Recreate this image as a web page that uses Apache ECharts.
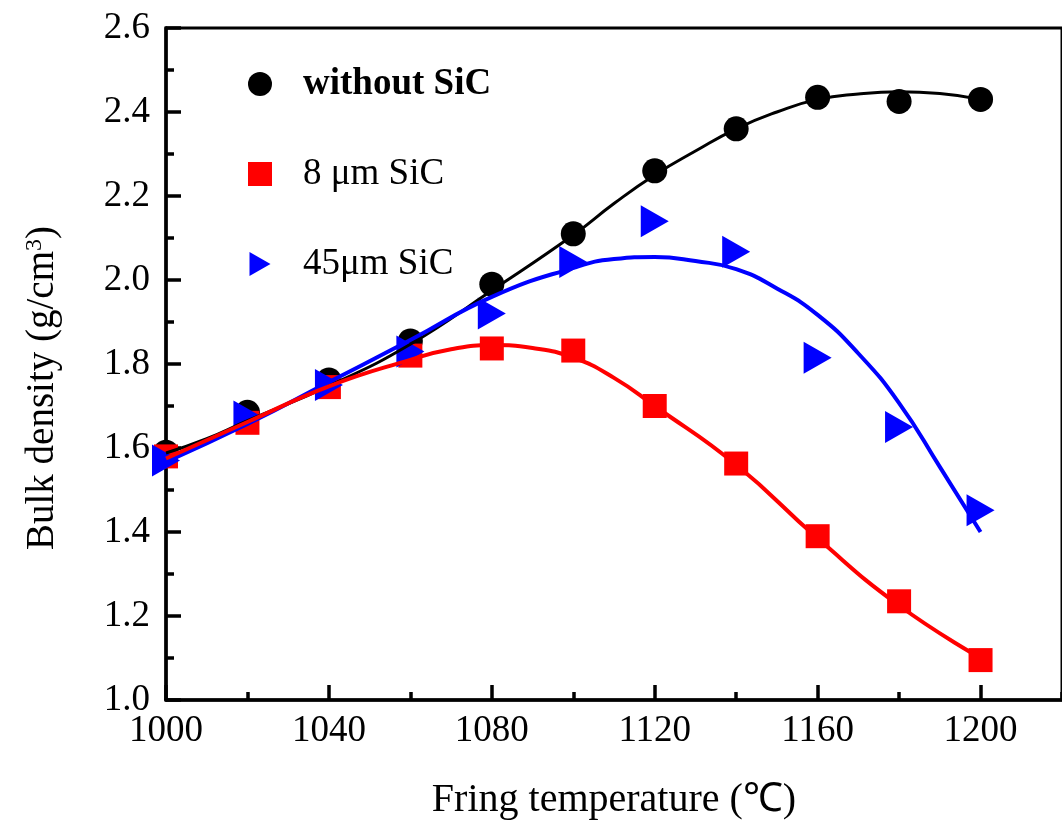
<!DOCTYPE html>
<html>
<head>
<meta charset="utf-8">
<script src="https://cdn.jsdelivr.net/npm/echarts@6/dist/echarts.min.js"></script>
<style>html,body{margin:0;padding:0;background:#fff}#c{width:1062px;height:828px}</style>
</head>
<body>
<div id="c"></div>
<script>
// Measured points
const temps = [1000, 1020, 1040, 1060, 1080, 1100, 1120, 1140, 1160, 1180, 1200];
const withoutSiC = [1.59, 1.685, 1.762, 1.855, 1.99, 2.11, 2.26, 2.36, 2.435, 2.425, 2.43];
const sic8 = [1.58, 1.66, 1.745, 1.82, 1.837, 1.832, 1.70, 1.563, 1.39, 1.235, 1.095];
const sic45 = [1.57, 1.675, 1.75, 1.83, 1.92, 2.043, 2.14, 2.067, 1.815, 1.65, 1.452];

// Fitted curves
const fitBlackX = [1000, 1010, 1020, 1040, 1060, 1080, 1100, 1110, 1120, 1130, 1140, 1150, 1160, 1170, 1180, 1190, 1200];
const fitBlackY = [1.588, 1.622, 1.665, 1.748, 1.847, 1.975, 2.107, 2.182, 2.25, 2.307, 2.36, 2.40, 2.43, 2.443, 2.448, 2.444, 2.43];
const fitRedX = [1000, 1020, 1040, 1060, 1070, 1080, 1090, 1100, 1110, 1120, 1140, 1160, 1180, 1200];
const fitRedY = [1.575, 1.662, 1.747, 1.81, 1.835, 1.845, 1.838, 1.815, 1.767, 1.70, 1.56, 1.385, 1.225, 1.10];
const fitBlueX = [1000, 1020, 1040, 1060, 1080, 1100, 1110, 1120, 1130, 1140, 1150, 1160, 1170, 1180, 1190, 1200];
const fitBlueY = [1.567, 1.657, 1.757, 1.857, 1.96, 2.029, 2.05, 2.055, 2.045, 2.026, 1.98, 1.917, 1.825, 1.707, 1.555, 1.40];

const seriesNames = ['without SiC', '8 \u03bcm SiC', '45\u03bcm SiC'];
const xTicks = [1000, 1220, 40];
const yTicks = [1.0, 2.6, 0.2];

const pairs = (xs, ys) => xs.map((x, i) => [x, ys[i]]);
const FONT = '"Liberation Serif", "Times New Roman", serif';
const chart = echarts.init(document.getElementById('c'), null, {renderer: 'canvas'});
const triPath = 'path://M0,0L28,16L0,32Z';

chart.setOption({
  animation: false,
  backgroundColor: '#fff',
  grid: {left: 166, top: 28, bottom: 128, right: -8, show: true, borderColor: '#000', borderWidth: 3, backgroundColor: 'transparent'},
  legend: {
    orient: 'vertical', left: 248, top: 64, padding: 0, itemGap: 50,
    itemWidth: 24, itemHeight: 24,
    data: seriesNames,
    formatter: n => n === 'without SiC' ? '{b|' + n + '}' : n,
    textStyle: {fontFamily: FONT, fontSize: 37, lineHeight: 40, color: '#000', padding: [0, 0, 0, 26],
      rich: {b: {fontFamily: FONT, fontSize: 37, fontWeight: 'bold', color: '#000', lineHeight: 40}}}
  },
  xAxis: [{
    type: 'value', min: xTicks[0], max: xTicks[1], interval: xTicks[2],
    name: 'Fring temperature (\u2103)', nameLocation: 'middle', nameGap: 80,
    nameTextStyle: {fontFamily: FONT, fontSize: 40, color: '#000'},
    axisLine: {show: true, onZero: false, lineStyle: {color: '#000', width: 3.5}},
    axisTick: {show: true, inside: true, length: 15, lineStyle: {color: '#000', width: 3.5}},
    axisLabel: {fontFamily: FONT, fontSize: 37, color: '#000', margin: 13, showMaxLabel: false,
      formatter: v => String(v)},
    splitLine: {show: false}
  }, {
    type: 'value', min: xTicks[0], max: xTicks[1], interval: xTicks[2] / 2, position: 'bottom',
    axisLine: {show: false}, axisLabel: {show: false}, splitLine: {show: false},
    axisTick: {show: true, inside: true, length: 8, lineStyle: {color: '#000', width: 3.5}}
  }],
  yAxis: {
    type: 'value', min: yTicks[0], max: yTicks[1], interval: yTicks[2],
    name: 'Bulk density (g/cm{sup|3})', nameLocation: 'middle', nameGap: 104,
    nameTextStyle: {fontFamily: FONT, fontSize: 39, color: '#000', padding: [0, 48, 0, 0],
      rich: {sup: {fontFamily: FONT, fontSize: 24, color: '#000', verticalAlign: 'top', padding: [0, 0, 14, 0]}}},
    axisLine: {show: true, onZero: false, lineStyle: {color: '#000', width: 3.5}},
    axisTick: {show: true, inside: true, length: 15, lineStyle: {color: '#000', width: 3.5}},
    minorTick: {show: true, splitNumber: 2, length: 8, lineStyle: {color: '#000', width: 3.5}},
    axisLabel: {fontFamily: FONT, fontSize: 37, color: '#000', margin: 16, formatter: v => v.toFixed(1)},
    splitLine: {show: false}
  },
  series: [
    {name: seriesNames[0], type: 'scatter', symbol: 'circle', symbolSize: 25, z: 2,
      itemStyle: {color: '#000', opacity: 1}, data: pairs(temps, withoutSiC)},
    {name: seriesNames[1], type: 'scatter', symbol: 'rect', symbolSize: 24, z: 2,
      itemStyle: {color: '#ff0000', opacity: 1}, data: pairs(temps, sic8)},
    {name: seriesNames[2], type: 'scatter', symbol: triPath, symbolSize: [28, 32], z: 2,
      itemStyle: {color: '#0000ff', opacity: 1}, data: pairs(temps, sic45)},
    {name: 'fit1', type: 'line', smooth: 0.5, showSymbol: false, symbol: 'none', z: 3,
      lineStyle: {color: '#000', width: 3}, data: pairs(fitBlackX, fitBlackY)},
    {name: 'fit3', type: 'line', smooth: 0.5, showSymbol: false, symbol: 'none', z: 3,
      lineStyle: {color: '#0000ff', width: 4}, data: pairs(fitBlueX, fitBlueY)},
    {name: 'fit2', type: 'line', smooth: 0.5, showSymbol: false, symbol: 'none', z: 3,
      lineStyle: {color: '#ff0000', width: 4}, data: pairs(fitRedX, fitRedY)}
  ]
});
</script>
</body>
</html>
